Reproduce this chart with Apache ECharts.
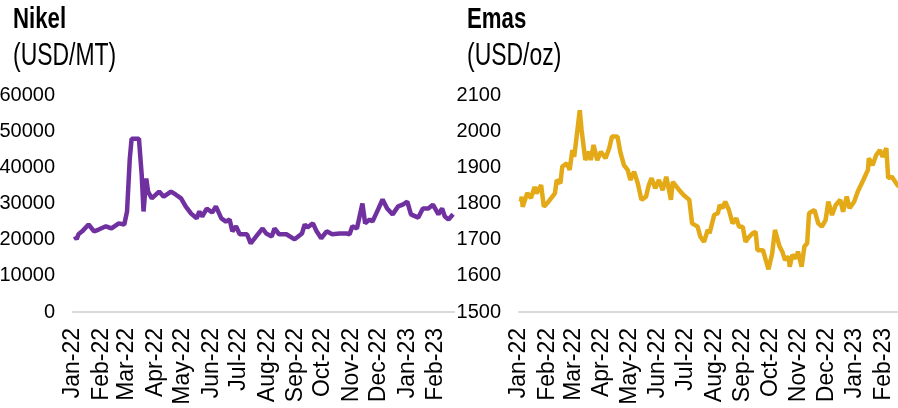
<!DOCTYPE html>
<html>
<head>
<meta charset="utf-8">
<script src="https://cdn.jsdelivr.net/npm/echarts@6/dist/echarts.min.js"></script>
<style>
  html, body { margin: 0; padding: 0; background: #fff; }
  #chart { width: 898px; height: 408px; }
</style>
</head>
<body>
<div id="chart"></div>
<script>
// Nikel (USD/MT)
var nikelDates = ['2022-01-03','2022-01-05','2022-01-07','2022-01-11','2022-01-18','2022-01-24','2022-01-29','2022-02-06','2022-02-12','2022-02-20','2022-02-26',
  '2022-03-01','2022-03-04','2022-03-06','2022-03-14','2022-03-17','2022-03-19','2022-03-22','2022-03-24','2022-03-28','2022-04-05','2022-04-10','2022-04-18','2022-04-23','2022-04-29',
  '2022-05-04','2022-05-10','2022-05-16','2022-05-19','2022-05-22','2022-05-27','2022-06-02','2022-06-06','2022-06-12','2022-06-17','2022-06-21','2022-06-24','2022-06-28',
  '2022-07-02','2022-07-10','2022-07-14','2022-07-20','2022-07-27','2022-07-31','2022-08-06','2022-08-09','2022-08-14','2022-08-22','2022-08-31',
  '2022-09-08','2022-09-11','2022-09-14','2022-09-20','2022-09-24','2022-09-29','2022-10-05','2022-10-11','2022-10-19','2022-10-27','2022-10-30',
  '2022-11-02','2022-11-07','2022-11-13','2022-11-16','2022-11-21','2022-11-24','2022-11-30','2022-12-05','2022-12-10','2022-12-16','2022-12-22','2022-12-27',
  '2023-01-01','2023-01-05','2023-01-13','2023-01-18','2023-01-24','2023-01-29','2023-02-04','2023-02-08','2023-02-11','2023-02-15','2023-02-20'];
var nikelValues = [20900,20100,21500,22300,24200,22300,22800,23700,23100,24500,24200,
  27800,42400,47900,47900,38000,27800,36900,33300,31400,33300,31900,33300,32500,31400,
  29200,27200,25900,27800,26400,28600,27500,29200,25900,25000,25600,22300,23700,
  21500,21500,19000,20900,23100,21700,20900,23100,21500,21500,20100,
  21700,24200,23400,24500,22300,20400,22300,21500,21700,21700,21500,
  23700,23100,30000,24500,25600,25000,28300,31100,28600,27000,29200,29700,
  30500,27000,26100,28600,28600,29700,27000,28600,26400,25600,27000];

// Emas (USD/oz)
var emasDates = ['2022-01-03','2022-01-04','2022-01-05','2022-01-10','2022-01-14','2022-01-18','2022-01-20','2022-01-25','2022-01-28','2022-02-02','2022-02-09','2022-02-11','2022-02-15','2022-02-17','2022-02-22','2022-02-25','2022-02-28',
  '2022-03-02','2022-03-08','2022-03-10','2022-03-14','2022-03-18','2022-03-20','2022-03-23','2022-03-27','2022-03-31','2022-04-05','2022-04-09','2022-04-12','2022-04-18','2022-04-21','2022-04-25','2022-04-29',
  '2022-05-02','2022-05-06','2022-05-10','2022-05-14','2022-05-19','2022-05-22','2022-05-25','2022-05-29','2022-06-02','2022-06-06','2022-06-10','2022-06-15','2022-06-17','2022-06-24','2022-06-29',
  '2022-07-05','2022-07-08','2022-07-14','2022-07-17','2022-07-21','2022-07-25','2022-07-27','2022-08-01','2022-08-05','2022-08-07','2022-08-10','2022-08-13','2022-08-17','2022-08-21','2022-08-25','2022-08-28',
  '2022-09-01','2022-09-04','2022-09-08','2022-09-12','2022-09-15','2022-09-17','2022-09-23','2022-09-26','2022-09-29','2022-10-03','2022-10-06','2022-10-11','2022-10-14','2022-10-17','2022-10-21','2022-10-22','2022-10-25','2022-10-29','2022-10-31',
  '2022-11-04','2022-11-07','2022-11-10','2022-11-12','2022-11-18','2022-11-22','2022-11-26','2022-11-30','2022-12-03','2022-12-07','2022-12-11','2022-12-16','2022-12-19','2022-12-23','2022-12-26','2022-12-31',
  '2023-01-04','2023-01-10','2023-01-15','2023-01-16','2023-01-20','2023-01-24','2023-01-28','2023-01-31','2023-02-04','2023-02-06','2023-02-10','2023-02-16','2023-02-21'];
var emasValues = [1805,1819,1791,1829,1815,1846,1828,1851,1791,1805,1828,1865,1856,1902,1911,1893,1948,
  1929,2058,2003,1920,1943,1920,1962,1920,1943,1925,1953,1985,1985,1943,1906,1893,
  1865,1888,1856,1810,1819,1851,1870,1842,1865,1837,1874,1810,1860,1837,1823,
  1810,1745,1736,1708,1694,1727,1718,1768,1773,1796,1787,1805,1782,1745,1759,1736,
  1736,1694,1708,1718,1722,1671,1671,1644,1618,1662,1727,1681,1667,1644,1653,1625,1658,1648,1667,
  1625,1681,1690,1773,1782,1745,1736,1754,1805,1768,1796,1810,1777,1819,1787,1805,
  1833,1865,1893,1925,1906,1934,1948,1929,1953,1870,1874,1851,1840];

var monthTicks = ['2022-01-01','2022-02-01','2022-03-01','2022-04-01','2022-05-01','2022-06-01','2022-07-01',
  '2022-08-01','2022-09-01','2022-10-01','2022-11-01','2022-12-01','2023-01-01','2023-02-01'];
var monthNames = ['Jan','Feb','Mar','Apr','May','Jun','Jul','Aug','Sep','Oct','Nov','Dec'];

function ts(s) { return +echarts.number.parseDate(s); }
function pairs(dates, values) {
  return dates.map(function (d, i) { return [ts(d), values[i]]; });
}
var tickValues = monthTicks.map(ts);

var font = "'Liberation Sans', Arial, sans-serif";

// value axis holding timestamps, so month labels can sit on exact month starts
function xAxisFor(gridIndex) {
  return {
    type: 'value', gridIndex: gridIndex,
    min: ts('2022-01-01'), max: ts('2023-02-21'),
    axisLine: { show: true, onZero: false, lineStyle: { color: '#d9d9d9', width: 2 } },
    axisTick: { show: false },
    splitLine: { show: false },
    axisLabel: {
      customValues: tickValues,
      rotate: 90, margin: 16,
      color: '#000', fontSize: 23, fontFamily: font,
      formatter: function (v) {
        var d = new Date(v);
        return monthNames[d.getMonth()] + '-' + String(d.getFullYear()).slice(2);
      }
    }
  };
}
function yAxisFor(gridIndex, min, max, interval) {
  return {
    type: 'value', gridIndex: gridIndex, min: min, max: max, interval: interval,
    axisLine: { show: false }, axisTick: { show: false }, splitLine: { show: false },
    axisLabel: { color: '#000', fontSize: 20, fontFamily: font, margin: 18,
      formatter: function (v) { return String(v); } }
  };
}

// titles are narrow in the source, so squeeze them horizontally
function titleText(x, y, text, bold) {
  return {
    type: 'text', x: x, y: y, scaleX: 0.74, silent: true,
    style: { text: text, fill: '#000', fontFamily: font, fontSize: bold ? 30 : 31,
      fontWeight: bold ? 'bold' : 'normal', textAlign: 'left', textVerticalAlign: 'top' }
  };
}

var myChart = echarts.init(document.getElementById('chart'), null, { renderer: 'canvas' });
var option = {
  animation: false,
  graphic: [
    titleText(13, 5, 'Nikel', true),
    titleText(13, 41, '(USD/MT)', false),
    titleText(467, 5, 'Emas', true),
    titleText(467, 41, '(USD/oz)', false)
  ],
  grid: [
    { left: 73, right: 444, top: 95, bottom: 96, outerBoundsMode: 'none' },
    { left: 519, right: -4, top: 95, bottom: 96, outerBoundsMode: 'none' }
  ],
  xAxis: [xAxisFor(0), xAxisFor(1)],
  yAxis: [yAxisFor(0, 0, 60000, 10000), yAxisFor(1, 1500, 2100, 100)],
  series: [
    { name: 'Nikel', type: 'line', xAxisIndex: 0, yAxisIndex: 0, showSymbol: false,
      lineStyle: { color: '#7030a0', width: 4.5 }, itemStyle: { color: '#7030a0' },
      data: pairs(nikelDates, nikelValues) },
    { name: 'Emas', type: 'line', xAxisIndex: 1, yAxisIndex: 1, showSymbol: false,
      lineStyle: { color: '#e3a917', width: 4.5 }, itemStyle: { color: '#e3a917' },
      data: pairs(emasDates, emasValues) }
  ]
};
myChart.setOption(option);
</script>
</body>
</html>
